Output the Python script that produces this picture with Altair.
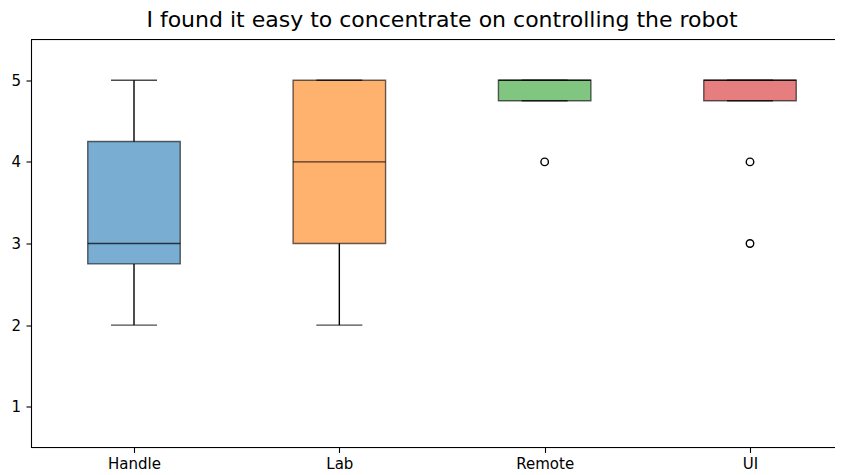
import altair as alt
import pandas as pd

groups = ["Handle", "Lab", "Remote", "UI"]
q1 = [2.75, 3.0, 4.75, 4.75]
median = [3.0, 4.0, 5.0, 5.0]
q3 = [4.25, 5.0, 5.0, 5.0]
whisker_lo = [2.0, 2.0, 4.75, 4.75]
whisker_hi = [5.0, 5.0, 5.0, 5.0]
colors = ["#1f77b4", "#ff7f0e", "#2ca02c", "#d62728"]

outlier_group = ["Remote", "UI", "UI"]
outlier_value = [4.0, 4.0, 3.0]

title = "I found it easy to concentrate on controlling the robot"

df = pd.DataFrame({
    "group": groups, "q1": q1, "median": median, "q3": q3,
    "lo": whisker_lo, "hi": whisker_hi,
})
out = pd.DataFrame({"group": outlier_group, "value": outlier_value})

FONT = "DejaVu Sans"
W, H = 804, 408

xscale = alt.Scale(type="point", domain=groups, range=[103, 719], padding=0)
yscale = alt.Scale(domain=[0.5, 5.5], nice=False, zero=False)

xenc = alt.X("group:N", scale=xscale, sort=groups,
             axis=alt.Axis(title=None, labelAngle=0, labelFontSize=15,
                           labelFont=FONT, labelColor="black", tickColor="black",
                           tickSize=5, tickWidth=1.1, labelPadding=4,
                           domain=False))
yaxis = alt.Axis(title=None, values=[1, 2, 3, 4, 5], grid=False, labelFontSize=15,
                 labelFont=FONT, labelColor="black", tickColor="black",
                 tickSize=5, tickWidth=1.1, labelPadding=5.5,
                 domain=True, domainColor="black", domainWidth=1.1)

base = alt.Chart(df)

whisk_lo = base.mark_rule(color="black", strokeWidth=1.4).encode(
    x=xenc, y=alt.Y("lo:Q", scale=yscale, axis=yaxis), y2="q1:Q")
whisk_hi = base.mark_rule(color="black", strokeWidth=1.4).encode(
    x=xenc, y=alt.Y("q3:Q", scale=yscale, axis=yaxis), y2="hi:Q")

box = base.mark_bar(size=92.5, fillOpacity=0.6, stroke="black", strokeOpacity=0.6,
                    strokeWidth=1.4).encode(
    x=xenc,
    y=alt.Y("q1:Q", scale=yscale, axis=yaxis), y2="q3:Q",
    fill=alt.Fill("group:N", scale=alt.Scale(domain=groups, range=colors), legend=None),
)

cap_lo = base.mark_tick(orient="horizontal", size=46, thickness=1.4, color="black").encode(
    x=xenc, y=alt.Y("lo:Q", scale=yscale, axis=yaxis))
cap_hi = base.mark_tick(orient="horizontal", size=46, thickness=1.4, color="black").encode(
    x=xenc, y=alt.Y("hi:Q", scale=yscale, axis=yaxis))
med = base.mark_tick(orient="horizontal", size=92.5, thickness=1.4, color="black").encode(
    x=xenc, y=alt.Y("median:Q", scale=yscale, axis=yaxis))

pts = alt.Chart(out).mark_point(shape="circle", size=56, filled=False, color="black",
                                strokeWidth=1.4, opacity=1).encode(
    x=xenc, y=alt.Y("value:Q", scale=yscale, axis=yaxis))

# top and bottom spines (the reference's right spine lies beyond the image)
top_spine = alt.Chart(df).mark_rule(color="black", strokeWidth=1.1).encode(
    x=alt.value(0), x2=alt.value(W + 2), y=alt.value(0))
bottom_spine = alt.Chart(df).mark_rule(color="black", strokeWidth=1.1).encode(
    x=alt.value(0), x2=alt.value(W + 2), y=alt.value(H))

chart = alt.layer(box, whisk_lo, whisk_hi, cap_lo, cap_hi, med, pts,
                  top_spine, bottom_spine).properties(
    width=W, height=H,
    title=alt.TitleParams(title, font=FONT, fontSize=22, fontWeight="normal",
                          color="black", anchor="middle", dx=9, offset=-10,
                          baseline="alphabetic"),
    autosize=alt.AutoSizeParams(type="none"),
    padding={"left": 23, "top": 31.5, "right": 0, "bottom": 26},
).configure_view(stroke=None).configure(background="white")

chart.save("out.html", embed_options={"renderer": "svg", "actions": False})
